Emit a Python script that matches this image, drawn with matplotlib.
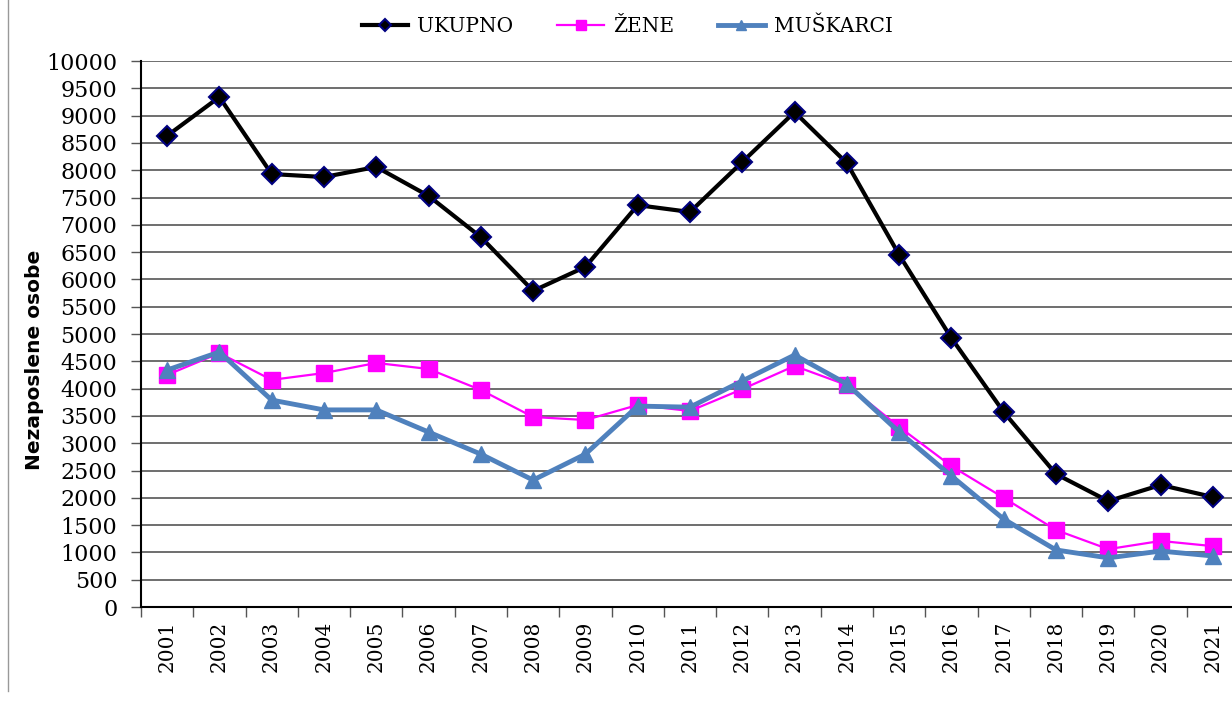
import matplotlib.pyplot as plt
from matplotlib.lines import Line2D
from matplotlib.ticker import MultipleLocator, FixedLocator

years = [str(y) for y in range(2001, 2022)]
ukupno = [8630, 9340, 7930, 7875, 8060, 7530, 6775, 5790, 6230, 7360, 7235,
          8150, 9065, 8130, 6450, 4925, 3570, 2435, 1940, 2235, 2015]
zene = [4250, 4650, 4160, 4285, 4470, 4360, 3975, 3480, 3425, 3700, 3590,
        3990, 4415, 4065, 3300, 2580, 2000, 1410, 1060, 1210, 1115]
muskarci = [4340, 4670, 3790, 3610, 3610, 3205, 2800, 2325, 2800, 3680, 3660,
            4140, 4615, 4085, 3205, 2400, 1610, 1045, 900, 1025, 935]

serif = "DejaVu Serif"

fig = plt.figure(figsize=(12.32, 7.02), dpi=100)
ax = fig.add_axes([0.1144, 0.1353, 0.8913, 0.7778])

x = list(range(len(years)))
ax.plot(x, ukupno, color="black", lw=3, marker="D", ms=10,
        markerfacecolor="black", markeredgecolor="#000080", markeredgewidth=1.5,
        label="UKUPNO", zorder=3)
ax.plot(x, zene, color="#FF00FF", lw=1.6, marker="s", ms=12,
        markerfacecolor="#FF00FF", markeredgecolor="#FF00FF",
        label="ŽENE", zorder=4)
ax.plot(x, muskarci, color="#4F81BD", lw=3.5, marker="^", ms=11,
        markerfacecolor="#4F81BD", markeredgecolor="#4F81BD",
        label="MUŠKARCI", zorder=5)

ax.set_xlim(-0.5, len(years) - 0.5)
ax.set_ylim(0, 10000)
ax.yaxis.set_major_locator(MultipleLocator(500))
ax.grid(axis="y", color="#555555", lw=1.2)
ax.set_axisbelow(True)

ax.set_xticks(x)
ax.set_xticklabels(years, rotation=90, fontsize=14.5, family=serif)
ax.tick_params(axis="x", which="major", length=0, pad=10)
ax.xaxis.set_minor_locator(FixedLocator([i - 0.5 for i in range(len(years) + 1)]))
ax.tick_params(axis="x", which="minor", length=7, width=1, color="#555555")
ax.tick_params(axis="y", length=7, width=1, color="#555555", pad=10)
for lab in ax.get_yticklabels():
    lab.set_family(serif)
    lab.set_fontsize(16)

for s in ["top", "right"]:
    ax.spines[s].set_visible(False)
ax.spines["left"].set_linewidth(1.5)
ax.spines["bottom"].set_linewidth(1.5)

ax.set_ylabel("Nezaposlene osobe", fontsize=14.5, fontweight="heavy",
              family="DejaVu Sans")
ax.yaxis.set_label_coords(-0.088, 0.452)

fig.legend(loc="center", bbox_to_anchor=(0.509, 0.963), ncol=3, frameon=False,
           prop={"family": serif, "size": 14.5}, handlelength=2.3,
           columnspacing=2.2, handletextpad=0.45, markerscale=0.65)

fig.add_artist(Line2D([0.0065, 0.0065], [0.015, 1.0], color="#999999", lw=1))

fig.savefig("out.png", dpi=100)
